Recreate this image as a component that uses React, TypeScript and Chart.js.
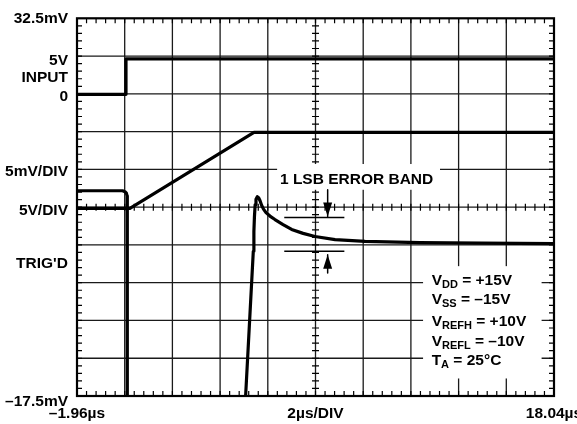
import React, { useEffect, useRef } from "react";
import { Chart, registerables } from "chart.js";

Chart.register(...registerables);

// Axis ranges (µs, mV)
const X_MIN = -1.96;
const X_MAX = 18.04;
const Y_MIN = -17.5;
const Y_MAX = 32.5;
const X_DIV = 2;
const Y_DIV = 5;

// Tick labels
const xTickValues = [-1.96, 8.04, 18.04];
const xTickLabels = ["–1.96µs", "2µs/DIV", "18.04µs"];
const yTickValues = [32.4, 26.95, 24.63, 22.13, 12.16, 7.0, 0.0, -18.25];
const yTickLabels = ["32.5mV", "5V", "INPUT", "0", "5mV/DIV", "5V/DIV", "TRIG'D", "–17.5mV"];

// Trace 1: INPUT step
const inputT = [-1.96, 0.094, 0.094, 18.04];
const inputV = [22.43, 22.43, 27.12, 27.12];

// Trace 2: DAC output ramp (5V/DIV)
const rampT = [-1.96, 0.26, 5.46, 18.04];
const rampV = [7.34, 7.34, 17.4, 17.4];

// Trace 3: settling output (5mV/DIV)
const settleT = [
  -1.96, -0.05, 0.05, 0.11, 0.14, 0.149, 0.149, 4.985, 5.11, 5.432, 5.457, 5.48,
  5.51, 5.545, 5.6, 5.655, 5.715, 5.78, 5.86, 5.965, 6.13, 6.34, 6.68, 7.04,
  7.52, 8.02, 8.86, 10.12, 12.42, 15.0, 18.04,
];
const settleV = [
  9.67, 9.67, 9.55, 9.35, 9.0, 8.0, -25, -25, -17.5, 1.66, 4.28, 6.25,
  7.83, 8.55, 8.88, 8.75, 8.35, 7.76, 7.24, 6.78, 6.32, 5.86, 5.2, 4.55,
  4.03, 3.62, 3.2, 2.97, 2.8, 2.74, 2.67,
];

// 1 LSB error band
const bandT = [6.73, 9.25];
const bandUpperV = [6.12, 6.12];
const bandLowerV = [1.66, 1.66];
const arrowT = 8.55;
const arrowUpperV = [9.8, 6.25];
const arrowLowerV = [1.2, -1.23];

// Annotation texts
const bandLabel = "1 LSB ERROR BAND";
const bandLabelPos = { x: 6.55, y: 10.62 };
const condMain = ["V", "V", "V", "V", "T"];
const condSub = ["DD", "SS", "REFH", "REFL", "A"];
const condRest = [" = +15V", " = –15V", " = +10V", " = –10V", " = 25°C"];
const condX = 12.91;
const condBaselines = [-2.74, -5.36, -8.27, -10.9, -13.39];

// White boxes (masking grid behind annotations), in data units
const maskBoxes = [
  { x0: 6.43, x1: 13.26, y0: 13.21, y1: 9.8 },
  { x0: 12.55, x1: 17.52, y0: -0.31, y1: -15.18 },
];

const FONT = "'Liberation Sans', Arial, Helvetica, sans-serif";
const FS = 15.5;

const zip = (xs: number[], ys: number[]) => xs.map((x, i) => ({ x, y: ys[i] }));

const scopePlugin = {
  id: "scopeGrid",
  beforeDatasetsDraw(chart: any) {
    const { ctx, chartArea: a } = chart;
    const xs = chart.scales.x;
    const ys = chart.scales.y;
    const px = (v: number) => xs.getPixelForValue(v);
    const py = (v: number) => ys.getPixelForValue(v);
    ctx.save();
    ctx.strokeStyle = "#1a1a1a";
    ctx.lineWidth = 1.3;
    ctx.beginPath();
    for (let k = 1; k < 10; k++) {
      const X = px(X_MIN + k * X_DIV);
      ctx.moveTo(X, a.top);
      ctx.lineTo(X, a.bottom);
    }
    for (let k = 1; k < 10; k++) {
      const Y = py(Y_MIN + k * Y_DIV);
      ctx.moveTo(a.left, Y);
      ctx.lineTo(a.right, Y);
    }
    ctx.stroke();

    // minor ticks
    ctx.lineWidth = 1.2;
    ctx.strokeStyle = "#000";
    ctx.beginPath();
    const cx = px((X_MIN + X_MAX) / 2);
    const cy = py((Y_MIN + Y_MAX) / 2);
    for (let k = 1; k < 50; k++) {
      const X = px(X_MIN + k * X_DIV / 5);
      ctx.moveTo(X, a.top);
      ctx.lineTo(X, a.top + 5);
      ctx.moveTo(X, a.bottom);
      ctx.lineTo(X, a.bottom - 5);
      ctx.moveTo(X, cy - 3.5);
      ctx.lineTo(X, cy + 3.5);
      const Y = py(Y_MIN + k * Y_DIV / 5);
      ctx.moveTo(a.left, Y);
      ctx.lineTo(a.left + 5, Y);
      ctx.moveTo(a.right, Y);
      ctx.lineTo(a.right - 5, Y);
      ctx.moveTo(cx - 3.5, Y);
      ctx.lineTo(cx + 3.5, Y);
    }
    ctx.stroke();

    ctx.lineWidth = 2.2;
    ctx.strokeStyle = "#000";
    ctx.strokeRect(a.left, a.top, a.right - a.left, a.bottom - a.top);

    // masks
    ctx.fillStyle = "#fff";
    maskBoxes.forEach((b) => {
      const x0 = px(b.x0), x1 = px(b.x1), y0 = py(b.y0), y1 = py(b.y1);
      ctx.fillRect(x0, y0, x1 - x0, y1 - y0);
    });

    // texts
    ctx.fillStyle = "#000";
    ctx.textBaseline = "alphabetic";
    ctx.textAlign = "left";
    ctx.font = `bold ${FS}px ${FONT}`;
    ctx.fillText(bandLabel, px(bandLabelPos.x), py(bandLabelPos.y));

    condMain.forEach((m, i) => {
      let X = px(condX);
      const Y = py(condBaselines[i]);
      ctx.font = `bold ${FS}px ${FONT}`;
      ctx.fillText(m, X, Y);
      X += ctx.measureText(m).width;
      ctx.font = `bold 11px ${FONT}`;
      ctx.fillText(condSub[i], X, Y + 3);
      X += ctx.measureText(condSub[i]).width;
      ctx.font = `bold ${FS}px ${FONT}`;
      ctx.fillText(condRest[i], X, Y);
    });
    ctx.restore();
  },
  afterDatasetsDraw(chart: any) {
    const { ctx } = chart;
    const xs = chart.scales.x;
    const ys = chart.scales.y;
    const X = xs.getPixelForValue(arrowT);
    const tipDown = ys.getPixelForValue(arrowUpperV[1]);
    const tipUp = ys.getPixelForValue(arrowLowerV[0]);
    ctx.save();
    ctx.fillStyle = "#000";
    ctx.beginPath();
    ctx.moveTo(X, tipDown);
    ctx.lineTo(X - 4.5, tipDown - 14);
    ctx.lineTo(X + 4.5, tipDown - 14);
    ctx.closePath();
    ctx.moveTo(X, tipUp);
    ctx.lineTo(X - 4.5, tipUp + 14);
    ctx.lineTo(X + 4.5, tipUp + 14);
    ctx.closePath();
    ctx.fill();
    ctx.restore();
  },
};

export default function App() {
  const ref = useRef<HTMLCanvasElement | null>(null);
  useEffect(() => {
    if (!ref.current) return;
    const traceStyle = {
      borderColor: "#000",
      borderWidth: 3.2,
      pointRadius: 0,
      tension: 0,
      fill: false,
      clip: 0,
      borderJoinStyle: "round" as const,
      borderCapStyle: "butt" as const,
    };
    const thin = { ...traceStyle, borderWidth: 1.6 };
    const chart = new Chart(ref.current, {
      type: "line",
      data: {
        datasets: [
          { ...traceStyle, data: zip(inputT, inputV) },
          { ...traceStyle, data: zip(rampT, rampV) },
          { ...traceStyle, data: zip(settleT, settleV) },
          { ...thin, data: zip(bandT, bandUpperV) },
          { ...thin, data: zip(bandT, bandLowerV) },
          { ...thin, borderWidth: 1.5, data: zip([arrowT, arrowT], arrowUpperV) },
          { ...thin, borderWidth: 1.5, data: zip([arrowT, arrowT], arrowLowerV) },
        ],
      },
      options: {
        animation: false,
        responsive: true,
        maintainAspectRatio: false,
        events: [],
        layout: { padding: { left: 0, top: 15, right: 46, bottom: 0 } },
        plugins: { legend: { display: false }, tooltip: { enabled: false } },
        scales: {
          x: {
            type: "linear",
            min: X_MIN,
            max: X_MAX,
            grid: { display: false, drawTicks: false },
            border: { display: false },
            afterBuildTicks: (s: any) => {
              s.ticks = xTickValues.map((v) => ({ value: v }));
            },
            afterFit: (s: any) => {
              s.height = 28;
            },
            ticks: {
              autoSkip: false,
              maxRotation: 0,
              minRotation: 0,
              padding: 8,
              color: "#000",
              font: { family: FONT, size: FS, weight: "bold" },
              callback: (_v: any, i: number) => xTickLabels[i],
            },
          },
          y: {
            type: "linear",
            min: Y_MIN,
            max: Y_MAX,
            grid: { display: false, drawTicks: false },
            border: { display: false },
            afterBuildTicks: (s: any) => {
              s.ticks = yTickValues.map((v) => ({ value: v }));
            },
            afterFit: (s: any) => {
              s.width = 77;
            },
            ticks: {
              autoSkip: false,
              padding: 9,
              color: "#000",
              font: { family: FONT, size: FS, weight: "bold" },
              callback: (_v: any, i: number) => yTickLabels[i],
            },
          },
        },
      },
      plugins: [scopePlugin],
    });
    return () => chart.destroy();
  }, []);

  return (
    <div style={{ position: "fixed", left: 0, top: 0, width: 577, height: 424, overflow: "hidden", background: "#fff" }}>
      <div style={{ position: "relative", width: 600, height: 424 }}>
        <canvas ref={ref} />
      </div>
    </div>
  );
}
